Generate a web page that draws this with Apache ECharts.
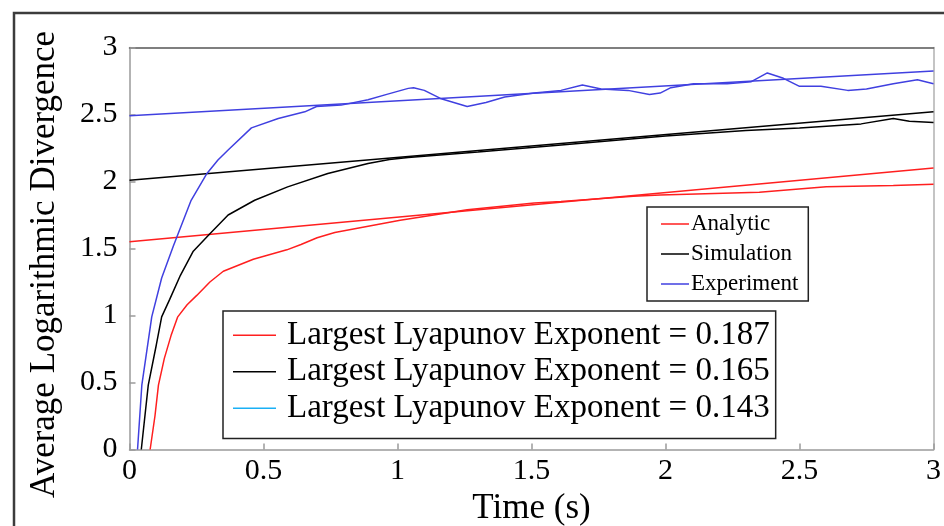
<!DOCTYPE html>
<html><head><meta charset="utf-8">
<script src="https://cdn.jsdelivr.net/npm/echarts@6/dist/echarts.min.js"></script>
<style>html,body{margin:0;padding:0;background:#fff}#c{width:944px;height:526px}</style>
</head><body><div id="c"></div>
<script>
// ---- data ----
const xTicks = [0, 0.5, 1, 1.5, 2, 2.5, 3];
const legendMain = ['Analytic', 'Simulation', 'Experiment'];
const legendLLE = ['Largest Lyapunov Exponent = 0.187', 'Largest Lyapunov Exponent = 0.165', 'Largest Lyapunov Exponent = 0.143'];

const analyticT = [0.077,0.095,0.108,0.13,0.155,0.18,0.215,0.251,0.30,0.35,0.462,0.587,0.64,0.70,0.766,1.01,1.26,1.51,1.61,1.88,1.98,2.35,2.60,2.85,3.0];
const analyticV = [0,0.25,0.48,0.68,0.85,0.99,1.08,1.15,1.25,1.33,1.42,1.49,1.53,1.58,1.62,1.71,1.79,1.84,1.85,1.89,1.90,1.92,1.96,1.97,1.98];

const simT = [0.044,0.07,0.10,0.12,0.15,0.19,0.238,0.30,0.368,0.467,0.59,0.74,0.89,0.97,1.04,1.3,1.6,2.0,2.3,2.5,2.73,2.85,2.91,3.0];
const simV = [0,0.48,0.78,0.99,1.12,1.30,1.48,1.61,1.75,1.86,1.96,2.06,2.135,2.165,2.18,2.22,2.27,2.34,2.38,2.40,2.43,2.47,2.45,2.44];

const expT = [0.03,0.046,0.083,0.12,0.164,0.23,0.289,0.33,0.368,0.455,0.555,0.654,0.698,0.79,0.89,0.96,1.04,1.06,1.1,1.16,1.26,1.33,1.40,1.51,1.61,1.69,1.76,1.86,1.94,1.98,2.02,2.105,2.23,2.32,2.38,2.44,2.50,2.58,2.68,2.75,2.85,2.94,3.0];
const expV = [0,0.48,0.99,1.28,1.52,1.86,2.06,2.16,2.235,2.40,2.47,2.52,2.56,2.57,2.61,2.65,2.695,2.70,2.68,2.62,2.56,2.59,2.63,2.66,2.68,2.72,2.69,2.68,2.65,2.66,2.70,2.73,2.73,2.745,2.81,2.77,2.71,2.71,2.68,2.69,2.73,2.76,2.73];

const fitT = [0, 3];
const analyticFit = [1.55, 2.10];
const simFit = [2.01, 2.52];
const expFit = [2.49, 2.825];

// ---- build ----
const zip = (a, b) => a.map((v, i) => [v, b[i]]);
const FONT = "'Liberation Serif','Times New Roman',serif";
const RED = '#ff1f1f', BLK = '#000000', BLU = '#4040e0', CYAN = '#1ab0f5';

function line(name, t, v, color) {
  return { name, type: 'line', data: zip(t, v), symbol: 'none', smooth: false,
    lineStyle: { color, width: 1.5 }, itemStyle: { color }, animation: false, z: 3 };
}

const chart = echarts.init(document.getElementById('c'), null, { renderer: 'canvas' });
chart.setOption({
  backgroundColor: '#fff',
  animation: false,
  textStyle: { fontFamily: FONT },
  grid: { left: 129.5, right: 10.5, top: 47.5, bottom: 76.5, containLabel: false, outerBoundsMode: 'none' },
  graphic: [{
    type: 'rect', z: 0, silent: true,
    shape: { x: 14, y: 13, width: 940, height: 520 },
    style: { fill: 'none', stroke: '#3c3c3c', lineWidth: 2.5 }
  }],
  xAxis: [{
    type: 'value', min: 0, max: 3, interval: 0.5,
    name: 'Time (s)', nameLocation: 'middle', nameGap: 36,
    nameTextStyle: { fontFamily: FONT, fontSize: 35, color: '#000' },
    axisLine: { show: true, lineStyle: { color: '#9a9a9a', width: 1.5 } },
    axisTick: { show: true, inside: true, length: 6, lineStyle: { color: '#9a9a9a', width: 1.5 } },
    axisLabel: { fontFamily: FONT, fontSize: 30, color: '#000', margin: 7,
      formatter: v => xTicks.includes(v) ? String(v) : '' },
    splitLine: { show: false }
  }, {
    type: 'value', min: 0, max: 3, position: 'top',
    axisLine: { show: true, onZero: false, lineStyle: { color: '#555', width: 1.5 } },
    axisTick: { show: false }, axisLabel: { show: false }, splitLine: { show: false }
  }],
  yAxis: [{
    type: 'value', min: 0, max: 3, interval: 0.5,
    name: 'Average Logarithmic Divergence', nameLocation: 'middle', nameGap: 67,
    nameTextStyle: { fontFamily: FONT, fontSize: 35, color: '#000', padding: [0, 32, 0, 0] },
    axisLine: { show: true, lineStyle: { color: '#9a9a9a', width: 1.5 } },
    axisTick: { show: true, inside: true, length: 6, lineStyle: { color: '#9a9a9a', width: 1.5 } },
    axisLabel: { fontFamily: FONT, fontSize: 30, color: '#000', margin: 12 },
    splitLine: { show: false }
  }, {
    type: 'value', min: 0, max: 3, position: 'right',
    axisLine: { show: true, onZero: false, lineStyle: { color: '#b0b0b0', width: 1.5 } },
    axisTick: { show: false }, axisLabel: { show: false }, splitLine: { show: false }
  }],
  legend: [{
    data: legendMain, orient: 'vertical', left: 647, top: 207,
    icon: 'rect', itemWidth: 28, itemHeight: 1.5, itemGap: 0,
    padding: [2, 10, 2, 14], borderColor: '#222', borderWidth: 1.5, backgroundColor: '#fff',
    selectedMode: false,
    textStyle: { fontFamily: FONT, fontSize: 23, color: '#000', lineHeight: 30, padding: [0, 0, 0, -3] }
  }, {
    data: legendLLE, orient: 'vertical', left: 223, top: 311,
    icon: 'rect', itemWidth: 43, itemHeight: 1.5, itemGap: 0,
    padding: [6, 6, 12, 10], borderColor: '#222', borderWidth: 1.5, backgroundColor: '#fff',
    selectedMode: false,
    textStyle: { fontFamily: FONT, fontSize: 33, color: '#000', lineHeight: 36.5, padding: [0, 0, 0, 6] }
  }],
  series: [
    line('Analytic fit', fitT, analyticFit, RED),
    line('Simulation fit', fitT, simFit, BLK),
    line('Experiment fit', fitT, expFit, BLU),
    line('Analytic', analyticT, analyticV, RED),
    line('Simulation', simT, simV, BLK),
    line('Experiment', expT, expV, BLU),
    line(legendLLE[0], [], [], RED),
    line(legendLLE[1], [], [], BLK),
    line(legendLLE[2], [], [], CYAN)
  ]
});
</script></body></html>
